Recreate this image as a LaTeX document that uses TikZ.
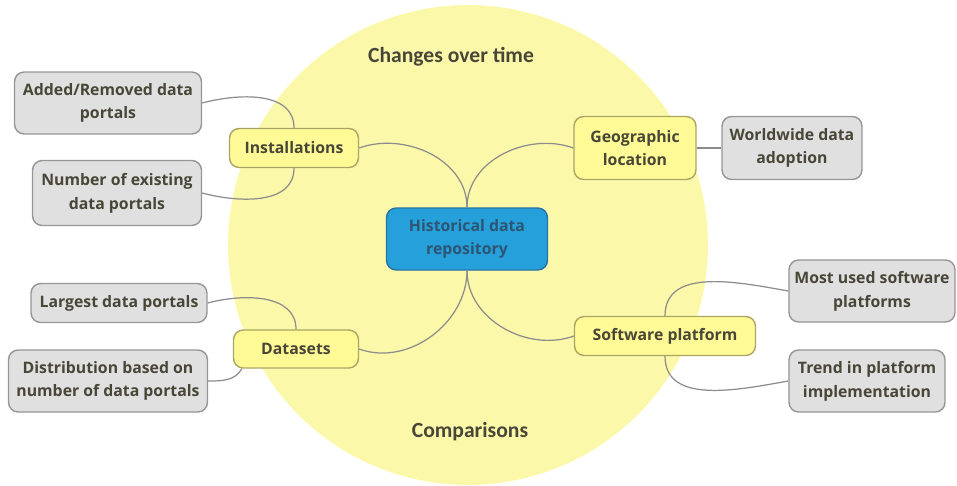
\documentclass[tikz,border=0pt]{standalone}
\usepackage{fontspec}
\setsansfont{Open Sans}
\newfontfamily\titlefont{Carlito}
\usepackage{tikz}
\definecolor{bubble}{RGB}{252,248,170}
\definecolor{subfill}{RGB}{255,250,150}
\definecolor{subline}{RGB}{170,165,100}
\definecolor{leaffill}{RGB}{224,224,224}
\definecolor{leafline}{RGB}{150,150,150}
\definecolor{mainfill}{RGB}{38,160,218}
\definecolor{mainline}{RGB}{40,115,165}
\definecolor{maintext}{RGB}{45,85,115}
\definecolor{inktext}{RGB}{72,70,55}
\definecolor{wire}{RGB}{140,140,140}
\tikzset{
  topic/.style={draw, rounded corners=5.5pt, line width=0.8pt, align=center,
    inner sep=2pt, text=inktext,
    font=\sffamily\bfseries\fontsize{9}{13.5}\selectfont},
  mainbox/.style={topic, fill=mainfill, draw=mainline, text=maintext},
  subtopic/.style={topic, fill=subfill, draw=subline},
  leaf/.style={topic, fill=leaffill, draw=leafline},
  sz/.style 2 args={minimum width=#1cm, minimum height=#2cm},
  heading/.style={text=inktext, font=\titlefont\bfseries\fontsize{12.3}{14}\selectfont},
  branch/.style={draw=wire, line width=0.7pt}
}

\begin{document}
\begin{tikzpicture}[x=0.02cm, y=-0.02cm]
  \useasboundingbox (0,0) rectangle (957,485);
  \fill[bubble] (468,245) circle[radius=4.8cm];

  \node[heading] (change) at (451,57) {Changes over time};
  \node[heading] (compare) at (470,432) {Comparisons};

  \node[mainbox, sz={3.22}{1.24}] (hist) at (467,239) {Historical data\\repository};

  \node[subtopic, sz={2.58}{0.78}] (inst) at (294,148) {Installations};
  \node[leaf, sz={3.74}{1.24}] (added) at (108,103) {Added/Removed data\\portals};
  \node[leaf, sz={3.38}{1.3}] (exist) at (117,193) {Number of existing\\data portals};

  \node[subtopic, sz={2.44}{1.26}] (geo) at (635,148) {Geographic\\location};
  \node[leaf, sz={2.8}{1.26}] (world) at (792,148) {Worldwide data\\adoption};

  \node[subtopic, sz={2.5}{0.76}] (data) at (296,349) {Datasets};
  \node[leaf, sz={3.52}{0.78}] (largest) at (119,303) {Largest data portals};
  \node[leaf, sz={3.98}{1.24}] (distr) at (108,381) {Distribution based on\\number of data portals};

  \node[subtopic, sz={3.62}{0.78}] (soft) at (665,336) {Software platform};
  \node[leaf, sz={3.32}{1.24}] (most) at (872,291) {Most used software\\platforms};
  \node[leaf, sz={3.12}{1.24}] (trend) at (867,381) {Trend in platform\\implementation};

  % main branches
  \draw[branch] (hist.north) to[out=90, in=20] (inst.east);
  \draw[branch] (hist.north) to[out=90, in=160] (geo.west);
  \draw[branch] (hist.south) to[out=-90, in=-20] (data.east);
  \draw[branch] (hist.south) to[out=-90, in=200] (soft.west);

  % leaves
  \draw[branch] (inst.north) to[out=90, in=15] (added.east);
  \draw[branch] (inst.south) to[out=-90, in=-15] (exist.east);
  \draw[branch] (geo) -- (world);
  \draw[branch] (data.north) to[out=90, in=15] (largest.east);
  \draw[branch] (data.-160) to[out=-120, in=0] (distr.east);
  \draw[branch] (soft.north) to[out=90, in=170] (most.west);
  \draw[branch] (soft.south) to[out=-90, in=190] (trend.west);
\end{tikzpicture}
\end{document}
